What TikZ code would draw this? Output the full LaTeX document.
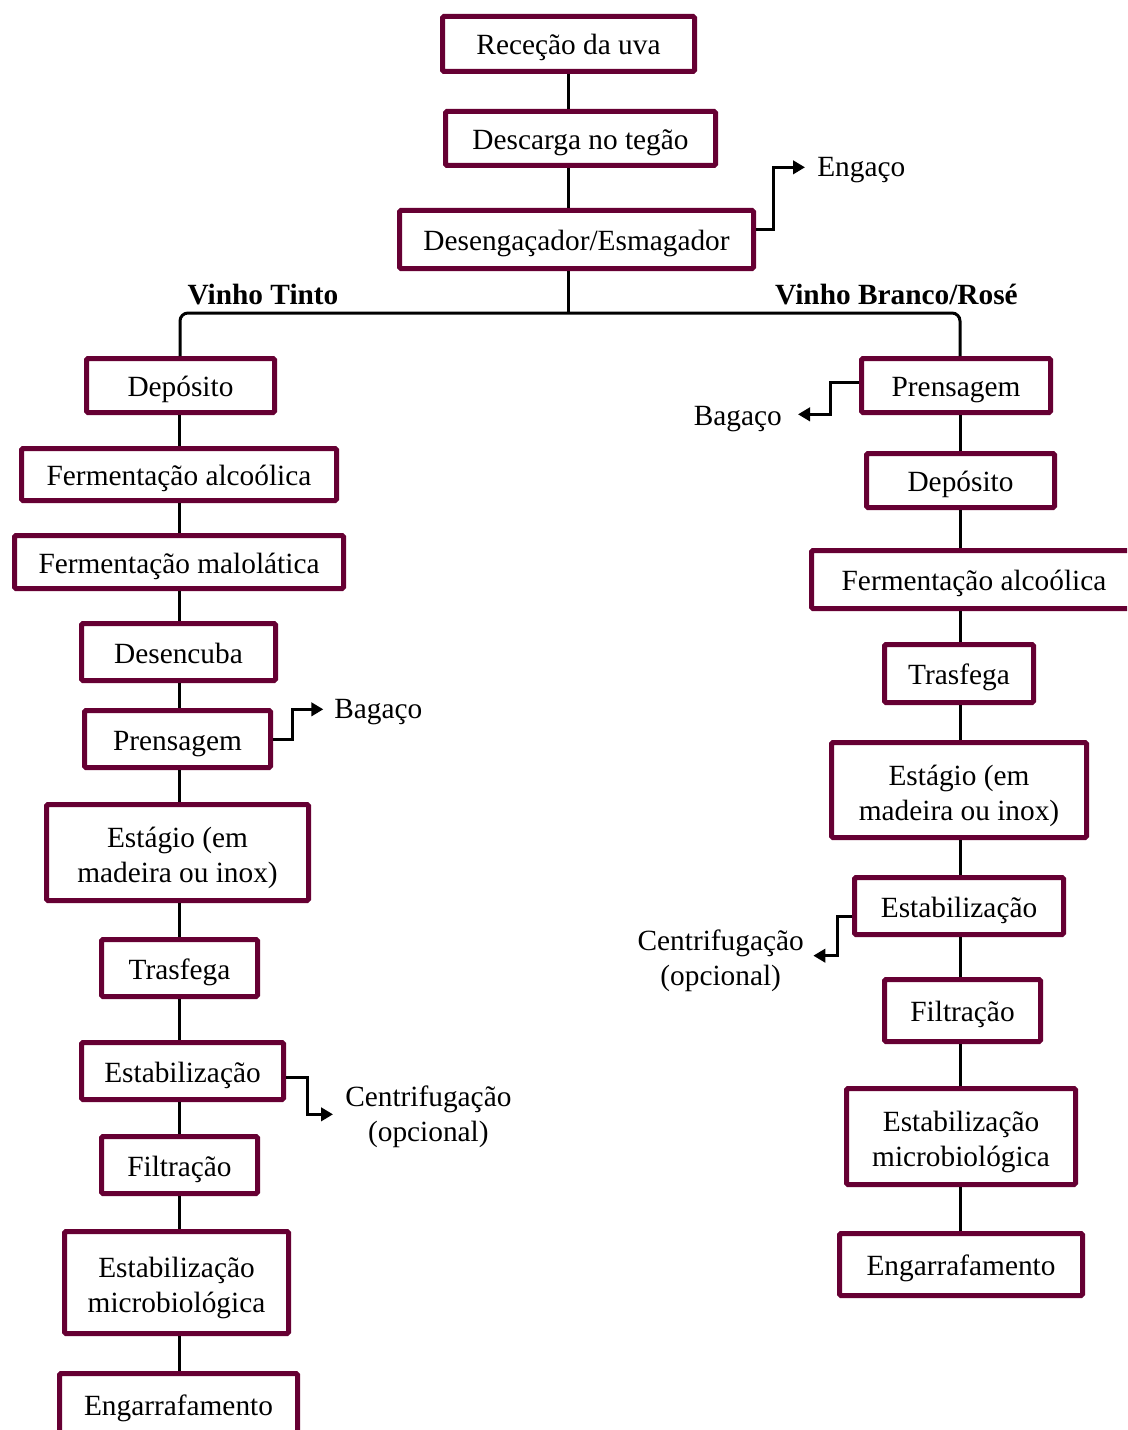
\documentclass[tikz,border=0pt]{standalone}
\usepackage{fontspec}
\setmainfont{Liberation Serif}
\usetikzlibrary{arrows.meta,calc}
\definecolor{wine}{RGB}{102,0,51}
\newcommand\tallstrut{\rule{0pt}{24.5pt}}
\begin{document}
\begin{tikzpicture}[x=0.75pt,y=-0.75pt,
  box/.style 2 args={draw=wine, line width=3.75pt, rounded corners=1pt,
    minimum width={(#1-5)*0.75pt}, minimum height={(#2-5)*0.75pt},
    inner sep=0pt, align=center,
    execute at begin node={\rule{0pt}{22pt}},
    execute at end node={\rule[-5.5pt]{0pt}{5.5pt}}},
  conn/.style={draw=black, line width=2.25pt},
  arr/.style={conn, -{Triangle[length=9pt,width=10pt]}},
  lbl/.style={inner sep=0pt, align=center},
  every node/.style={font=\fontsize{22}{26.5}\selectfont}]
\path[use as bounding box, clip] (0,0) rectangle (1127,1430);

% top
\node[box={257}{60}] (t1) at (568.5,44) {Receção da uva};
\node[box={275}{59}] (t2) at (580.5,138.5) {Descarga no tegão};
\node[box={359}{63}] (t3) at (576.5,239.5) {Desengaçador/Esmagador};
\node[lbl, anchor=west] (eng) at (817,170) {Engaço};

\node[lbl, font=\fontsize{22}{26.5}\selectfont\bfseries] (vt) at (263,295) {Vinho Tinto};
\node[lbl, font=\fontsize{22}{26.5}\selectfont\bfseries] (vb) at (896.5,295) {Vinho Branco/Rosé};

% left column
\node[box={193}{59}] (ldep) at (180.5,385.5) {Depósito};
\node[box={320}{57}] (lfa) at (179,474.5) {Fermentação alcoólica};
\node[box={334}{58}] (lfm) at (179,562) {Fermentação malolática};
\node[box={199}{62}] (ldes) at (178.5,652) {Desencuba};
\node[box={191}{62}] (lpren) at (177.5,739) {Prensagem};
\node[box={267}{101}] (lest) at (177.5,852.5) {\tallstrut Estágio (em\\madeira ou inox)};
\node[box={161}{62}] (ltras) at (179.5,968) {Trasfega};
\node[box={207}{62}] (lstab) at (182.5,1071) {Estabilização};
\node[box={161}{62}] (lfilt) at (179.5,1165) {Filtração};
\node[box={229}{107}] (lmic) at (176.5,1282.5) {\tallstrut Estabilização\\microbiológica};
\node[box={243}{66}] (leng) at (178.5,1404) {Engarrafamento};
\node[lbl, anchor=west] (lbag) at (334,712) {Bagaço};
\node[lbl, anchor=west] (lcen) at (345,1117) {Centrifugação\\(opcional)};

% right column
\node[box={194}{59}] (rpren) at (956,385.5) {Prensagem};
\node[box={193}{59}] (rdep) at (960.5,480.5) {Depósito};
\node[box={330}{63}] (rfa) at (974,579.5) {Fermentação alcoólica};
\node[box={154}{63}] (rtras) at (959,673.5) {Trasfega};
\node[box={260}{100}] (rest) at (959,790) {\tallstrut Estágio (em\\madeira ou inox)};
\node[box={214}{62}] (rstab) at (959,906) {Estabilização};
\node[box={161}{67}] (rfilt) at (962.5,1010.5) {Filtração};
\node[box={234}{101}] (rmic) at (961,1136.5) {\tallstrut Estabilização\\microbiológica};
\node[box={248}{67}] (reng) at (961,1264.5) {Engarrafamento};
\node[lbl, anchor=east] (rbag) at (782,419) {Bagaço};
\node[lbl, anchor=east] (rcen) at (804,961) {Centrifugação\\(opcional)};

% column coordinates
\coordinate (mx) at (568,0);
\coordinate (lx) at (179,0);
\coordinate (rx) at (960,0);
\coordinate (jm) at (568,313);
\coordinate (jl) at (180,313);
\coordinate (jr) at (960,313);

% top connectors
\draw[conn] (t1.south -| mx) -- (t2.north -| mx);
\draw[conn] (t2.south -| mx) -- (t3.north -| mx);
\draw[conn] (t3.south -| mx) -- (jm);
\draw[conn, rounded corners=6pt] (ldep.north -| jl) -- (jl) -- (jr) -- (rpren.north -| jr);
\draw[arr] ([yshift=7.5pt]t3.east) -- ++(17,0) |- ([xshift=-9pt,yshift=2pt]eng.west);

% left connectors
\foreach \a/\b in {ldep/lfa,lfa/lfm,lfm/ldes,ldes/lpren,lpren/lest,lest/ltras,ltras/lstab,lstab/lfilt,lfilt/lmic,lmic/leng}
  \draw[conn] (\a.south -| lx) -- (\b.north -| lx);
\draw[arr] (lpren.east) -- ++(19,0) |- ([xshift=-8pt,yshift=2pt]lbag.west);
\draw[arr] ([yshift=-5pt]lstab.east) -- ++(21,0) |- ([xshift=-9pt,yshift=2pt]lcen.west);

% right connectors
\foreach \a/\b in {rpren/rdep,rdep/rfa,rfa/rtras,rtras/rest,rest/rstab,rstab/rfilt,rfilt/rmic,rmic/reng}
  \draw[conn] (\a.south -| rx) -- (\b.north -| rx);
\draw[arr] ([yshift=2pt]rpren.west) -- ++(-29,0) |- ([xshift=12pt,yshift=3.5pt]rbag.east);
\draw[arr] ([yshift=-7.5pt]rstab.west) -- ++(-15,0) |- ([xshift=7pt,yshift=4pt]rcen.east);
\end{tikzpicture}
\end{document}
